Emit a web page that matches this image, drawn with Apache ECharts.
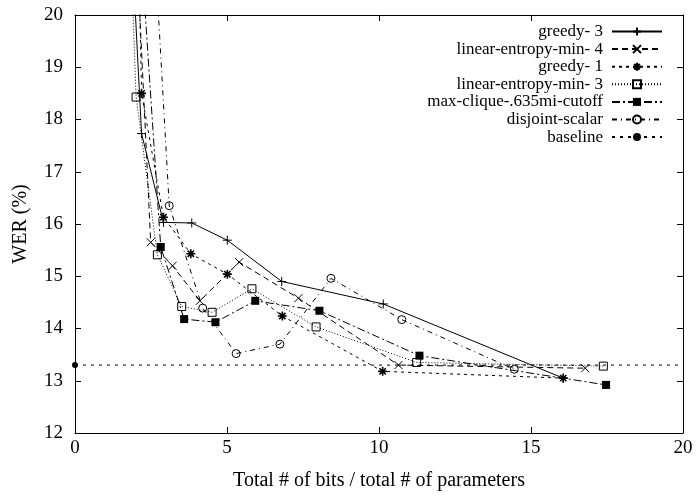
<!DOCTYPE html>
<html>
<head>
<meta charset="utf-8">
<script src="https://cdn.jsdelivr.net/npm/echarts@6/dist/echarts.min.js"></script>
<style>html,body{margin:0;padding:0;background:#fff}#c{width:697px;height:496px}</style>
</head>
<body>
<div id="c"></div>
<script>
// Data (x = bits/parameter, y = WER %); points with y > 20 lie off the top
const seriesNames = ['greedy- 3','linear-entropy-min- 4','greedy- 1','linear-entropy-min- 3','max-clique-.635mi-cutoff','disjoint-scalar','baseline'];
const greedy3 = [[1.9,21],[2.19,17.73],[2.91,16.03],[3.84,16.02],[5.01,15.69],[6.80,14.90],[10.14,14.47],[16.06,13.05]];
const lem4 = [[2.05,21],[2.49,15.65],[3.21,15.20],[4.11,14.53],[5.40,15.27],[7.35,14.58],[10.64,13.30],[16.78,13.24]];
const greedy1 = [[2.1,21],[2.19,18.50],[2.91,16.13],[3.81,15.43],[5.01,15.04],[6.82,14.24],[10.12,13.18],[16.06,13.05]];
const lem3 = [[1.85,21],[2.01,18.43],[2.71,15.41],[3.51,14.42],[4.51,14.31],[5.82,14.76],[7.93,14.03],[11.24,13.35],[17.38,13.28]];
const maxClique = [[2.2,21],[2.82,15.56],[3.59,14.18],[4.62,14.12],[5.93,14.53],[8.04,14.34],[11.33,13.48],[17.47,12.92]];
const disjoint = [[2.6,21.5],[3.10,16.35],[4.20,14.39],[5.30,13.52],[6.74,13.70],[8.42,14.96],[10.75,14.17],[14.45,13.22]];
const baseline = [[0,13.3],[20,13.3]];
const xTicks = [0,5,10,15,20];
const yTicks = [12,13,14,15,16,17,18,19,20];

const FONT = 'Liberation Serif';
const stroke = {color:'transparent', borderColor:'#000', borderWidth:1};
function mk(name, data, dash, symbol, size, itemStyle){
  return {
    name, type:'line', data: data.map(p => p[1] > 20 ? {value:p, symbol:'none'} : p),
    symbol, symbolSize:size, clip:true, showAllSymbol:true,
    lineStyle:{color:'#000', width:1, type:dash},
    itemStyle: itemStyle,
    emphasis:{disabled:true}, silent:true, z:3
  };
}
const series = [
  mk(seriesNames[0], greedy3, 'solid', 'path://M0,5L10,5M5,0L5,10', 9, stroke),
  mk(seriesNames[1], lem4, [6,4], 'path://M0,0L10,10M10,0L0,10', 8, stroke),
  mk(seriesNames[2], greedy1, [3,4], 'path://M0,5L10,5M5,0L5,10M1.5,1.5L8.5,8.5M8.5,1.5L1.5,8.5', 9, {color:'transparent', borderColor:'#000', borderWidth:1.6}),
  mk(seriesNames[3], lem3, [1,2], 'path://M0,0L10,0L10,10L0,10Z', 8, stroke),
  mk(seriesNames[4], maxClique, [8,3,2,3], 'rect', 8, {color:'#000', borderColor:'#000', borderWidth:0}),
  mk(seriesNames[5], disjoint, [5,4,1,4], 'circle', 8, stroke),
  Object.assign(mk(seriesNames[6], baseline, [3,5], 'circle', 6, {color:'#000', borderWidth:0}), {
    data: [baseline[0], {value: baseline[1], symbol:'none'}]
  })
];
const tickText = {color:'#000', fontFamily:FONT, fontSize:19};
const nameText = {color:'#000', fontFamily:FONT, fontSize:20};
const chart = echarts.init(document.getElementById('c'), null, {renderer:'canvas'});
chart.setOption({
  animation:false,
  backgroundColor:'#fff',
  grid:{left:75, right:14, top:15, bottom:59, show:false},
  legend:{
    data: seriesNames, orient:'vertical', right:29, top:18, align:'right',
    itemWidth:50, itemHeight:10, itemGap:0.6, selectedMode:false,
    textStyle:{color:'#000', fontFamily:FONT, fontSize:17, lineHeight:14, width:220, align:'right', padding:[0,4,0,0]}
  },
  xAxis:[{
    type:'value', min:0, max:20, interval:5, position:'bottom',
    name:'Total # of bits / total # of parameters', nameLocation:'middle', nameGap:38,
    nameTextStyle:nameText,
    axisLine:{show:true, onZero:false, lineStyle:{color:'#000', width:1}},
    axisTick:{show:true, inside:true, length:6, lineStyle:{color:'#000'}},
    axisLabel:Object.assign({margin:6}, tickText),
    splitLine:{show:false}
  },{
    type:'value', min:0, max:20, interval:5, position:'top',
    axisLine:{show:true, onZero:false, lineStyle:{color:'#000', width:1}},
    axisTick:{show:true, inside:true, length:6, lineStyle:{color:'#000'}},
    axisLabel:{show:false}, splitLine:{show:false}
  }],
  yAxis:[{
    type:'value', min:12, max:20, interval:1, position:'left',
    name:'WER (%)', nameLocation:'middle', nameGap:44, nameRotate:90,
    nameTextStyle:nameText,
    axisLine:{show:true, onZero:false, lineStyle:{color:'#000', width:1}},
    axisTick:{show:true, inside:true, length:6, lineStyle:{color:'#000'}},
    axisLabel:Object.assign({margin:12}, tickText),
    splitLine:{show:false}
  },{
    type:'value', min:12, max:20, interval:1, position:'right',
    axisLine:{show:true, onZero:false, lineStyle:{color:'#000', width:1}},
    axisTick:{show:true, inside:true, length:6, lineStyle:{color:'#000'}},
    axisLabel:{show:false}, splitLine:{show:false}
  }],
  series: series
});
</script>
</body>
</html>
